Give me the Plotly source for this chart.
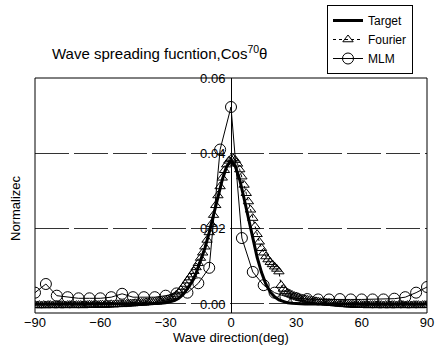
import plotly.graph_objects as go

# ---- data ----
target_deg = [-90, -60, -40, -34, -30, -28, -26, -24, -22, -20, -18, -16, -14, -12, -10, -8, -6, -4, -2,
              0, 2, 4, 6, 8, 10, 12, 14, 16, 18, 20, 22, 24, 26, 28, 30, 34, 40, 60, 90]
target_val = [0.0, 0.0, 0.0, 0.0001, 0.0003, 0.0005, 0.0009, 0.0015, 0.0025, 0.0040, 0.0058, 0.0082, 0.0113,
              0.0148, 0.0190, 0.0235, 0.0283, 0.0330, 0.0365,
              0.0380, 0.0365, 0.0330, 0.0280, 0.0225, 0.0172, 0.0124, 0.0084, 0.0053, 0.0032, 0.0019,
              0.0011, 0.0006, 0.0003, 0.0002, 0.0001, 0.0, 0.0, 0.0, 0.0]

fourier_deg = list(range(-90, 91))
fourier_left_tail = [  # -90 .. -31
    -0.0003, -0.0004, -0.0003, -0.0004, -0.0003, -0.0004, -0.0003, -0.0003, -0.0004, -0.0003,
    -0.0003, -0.0004, -0.0003, -0.0003, -0.0004, -0.0003, -0.0003, -0.0003, -0.0004, -0.0003,
    -0.0003, -0.0003, -0.0004, -0.0003, -0.0003, -0.0002, -0.0003, -0.0003, -0.0002, -0.0003,
    -0.0002, -0.0002, -0.0003, -0.0002, -0.0002, -0.0001, -0.0002, -0.0001, -0.0001, 0.0000,
    -0.0001, 0.0000, 0.0000, 0.0001, 0.0001, 0.0001, 0.0002, 0.0002, 0.0003, 0.0003,
    0.0003, 0.0004, 0.0004, 0.0005, 0.0005, 0.0006, 0.0006, 0.0007, 0.0008, 0.0009]
fourier_core = [  # -30 .. 30
    0.0010, 0.0012, 0.0014, 0.0017, 0.0020, 0.0025, 0.0030, 0.0037, 0.0045, 0.0053,
    0.0062, 0.0070, 0.0078, 0.0087, 0.0097, 0.0108, 0.0122, 0.0136, 0.0152, 0.0170,
    0.0190, 0.0212, 0.0236, 0.0262, 0.0288, 0.0312, 0.0335, 0.0355, 0.0370, 0.0380,
    0.0385,
    0.0386, 0.0382, 0.0372, 0.0357, 0.0338, 0.0316, 0.0294, 0.0272, 0.0250, 0.0228,
    0.0206, 0.0185, 0.0165, 0.0148, 0.0136, 0.0126, 0.0118, 0.0111, 0.0105, 0.0099,
    0.0093, 0.0086, 0.0050, 0.0040, 0.0034, 0.0030, 0.0027, 0.0024, 0.0021, 0.0019]
fourier_right_tail = [  # 31 .. 90
    0.0017, 0.0015, 0.0014, 0.0012, 0.0011, 0.0010, 0.0009, 0.0008, 0.0007, 0.0006,
    0.0005, 0.0005, 0.0004, 0.0003, 0.0003, 0.0002, 0.0002, 0.0001, 0.0001, 0.0000,
    0.0000, -0.0001, -0.0001, -0.0002, -0.0002, -0.0002, -0.0003, -0.0003, -0.0002, -0.0003,
    -0.0003, -0.0003, -0.0004, -0.0003, -0.0003, -0.0003, -0.0004, -0.0003, -0.0003, -0.0004,
    -0.0003, -0.0003, -0.0004, -0.0003, -0.0003, -0.0004, -0.0003, -0.0003, -0.0003, -0.0004,
    -0.0003, -0.0003, -0.0004, -0.0003, -0.0003, -0.0003, -0.0004, -0.0003, -0.0003, -0.0003]
fourier_val = fourier_left_tail + fourier_core + fourier_right_tail

mlm_deg = list(range(-90, 91, 5))
mlm_val = [0.0030, 0.0053, 0.0022, 0.0018, 0.0015, 0.0015, 0.0015, 0.0018, 0.0027, 0.0018,
           0.0018, 0.0018, 0.0022, 0.0028, 0.0030, 0.0055, 0.0096, 0.0410, 0.0523,
           0.0175, 0.0085, 0.0050, 0.0030, 0.0020, 0.0015, 0.0013, 0.0012, 0.0012, 0.0013,
           0.0012, 0.0012, 0.0012, 0.0012, 0.0014, 0.0018, 0.0030, 0.0045]

x_ticks = [-90, -60, -30, 0, 30, 60, 90]
x_tick_text = ["\u221290", "\u221260", "\u221230", "0", "30", "60", "90"]
y_ticks = [0.00, 0.02, 0.04, 0.06]
y_tick_text = ["0.00", "0.02", "0.04", "0.06"]

FONT = "Liberation Sans, Arial, sans-serif"

fig = go.Figure()
fig.add_trace(go.Scatter(x=target_deg, y=target_val, mode="lines", name="Target",
                         line=dict(color="black", width=3)))
fig.add_trace(go.Scatter(x=fourier_deg, y=fourier_val, mode="lines+markers", name="Fourier",
                         line=dict(color="black", width=1, dash="dot"),
                         marker=dict(symbol="triangle-up-open", size=9, color="black",
                                     line=dict(width=1, color="black"))))
fig.add_trace(go.Scatter(x=mlm_deg, y=mlm_val, mode="lines+markers", name="MLM",
                         line=dict(color="black", width=1),
                         marker=dict(symbol="circle-open", size=11, color="black",
                                     line=dict(width=1, color="black"))))

fig.update_layout(
    width=436, height=350,
    margin=dict(l=35, r=9, t=78, b=37, autoexpand=False),
    paper_bgcolor="white", plot_bgcolor="white",
    font=dict(family=FONT, color="black", size=12),
    showlegend=True,
    legend=dict(x=(327 - 35) / 392, y=(313 - 5) / 235, xanchor="left", yanchor="top",
                bordercolor="black", borderwidth=1, bgcolor="white",
                font=dict(size=12, family=FONT), itemwidth=30,
                tracegroupgap=0),
    xaxis=dict(range=[-90, 90], tickvals=x_ticks, ticktext=x_tick_text,
               showgrid=False, zeroline=False, showline=False, ticks="",
               tickfont=dict(size=13),
               title=dict(text="Wave direction(deg)", font=dict(size=13), standoff=0)),
    yaxis=dict(range=[-0.0024, 0.06], tickvals=y_ticks, ticktext=y_tick_text,
               anchor="free", position=0.5, showline=True, linecolor="black", linewidth=1,
               showgrid=True, gridcolor="#333", gridwidth=1, griddash="34px,5px",
               zeroline=False, ticks="", tickfont=dict(size=13), ticklabelstandoff=3),
    shapes=[dict(type="rect", xref="paper", yref="paper", x0=0, y0=0, x1=1, y1=1,
                 line=dict(color="black", width=1), fillcolor="rgba(0,0,0,0)")],
    annotations=[
        dict(text="Wave spreading fucntion,Cos<sup>70</sup>\u03b8", xref="paper", yref="paper",
             x=(50 - 35) / 392, y=(313 - 52) / 235, xanchor="left", yanchor="middle",
             showarrow=False, font=dict(size=15, family=FONT)),
        dict(text="Normalizec", xref="paper", yref="paper", x=(15 - 35) / 392,
             y=(313 - 208) / 235, xanchor="center", yanchor="middle", textangle=-90,
             showarrow=False, font=dict(size=13, family=FONT)),
    ],
)

fig.write_html("out.html", config={"displayModeBar": False},
               post_script="document.body.style.margin='0px';")
